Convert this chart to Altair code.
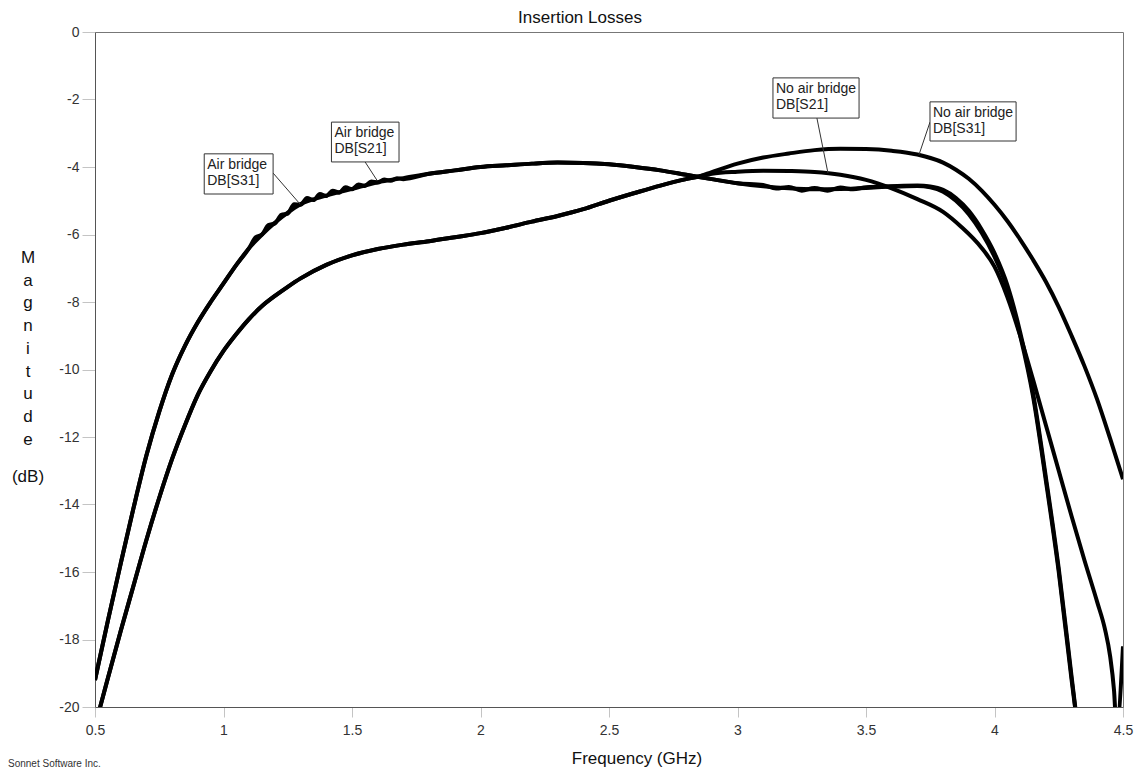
import altair as alt
import pandas as pd

# ---- Curves (frequency in GHz, magnitude in dB) ----
ab_s21_f = [0.5, 0.55, 0.6, 0.65, 0.7, 0.75, 0.8, 0.85, 0.9, 0.95, 1.0, 1.05, 1.1, 1.15, 1.2, 1.25, 1.3,
            1.4, 1.5, 1.6, 1.7, 1.8, 1.9, 2.0, 2.1, 2.2, 2.3, 2.4, 2.5, 2.6, 2.7, 2.8, 2.9, 3.0, 3.1, 3.2,
            3.3, 3.4, 3.5, 3.6, 3.7, 3.75, 3.8, 3.85, 3.9, 3.95, 4.0, 4.05, 4.1, 4.15, 4.2, 4.25, 4.3, 4.33]
ab_s21_db = [-19.2, -17.45, -15.75, -14.1, -12.55, -11.25, -10.15, -9.3, -8.6, -8.0, -7.45, -6.9, -6.4,
             -6.0, -5.65, -5.35, -5.1, -4.85, -4.65, -4.45, -4.33, -4.2, -4.1, -4.0, -3.95, -3.9, -3.87,
             -3.88, -3.92, -4.0, -4.1, -4.23, -4.36, -4.48, -4.57, -4.63, -4.66, -4.65, -4.62, -4.58,
             -4.56, -4.6, -4.73, -5.0, -5.4, -5.95, -6.66, -7.6, -9.0, -10.8, -13.3, -16.0, -19.2, -21.0]

ab_s31_f = [0.5, 0.55, 0.6, 0.65, 0.7, 0.75, 0.8, 0.85, 0.9, 0.95, 1.0, 1.05, 1.1, 1.125, 1.15, 1.175,
            1.2, 1.225, 1.25, 1.275, 1.3, 1.325, 1.35, 1.375, 1.4, 1.425, 1.45, 1.475, 1.5, 1.525, 1.55,
            1.575, 1.6, 1.625, 1.65, 1.675, 1.7, 1.8, 1.9, 2.0, 2.1, 2.2, 2.3, 2.4, 2.5, 2.6, 2.7, 2.8,
            2.9, 3.0, 3.1, 3.15, 3.2, 3.25, 3.3, 3.35, 3.4, 3.45, 3.5, 3.6, 3.7, 3.75, 3.8, 3.85, 3.9,
            3.95, 4.0, 4.05, 4.1, 4.15, 4.2, 4.25, 4.3, 4.33]
ab_s31_db = [-19.2, -17.45, -15.75, -14.1, -12.55, -11.25, -10.15, -9.3, -8.6, -8.0, -7.45, -6.9, -6.4,
             -6.08, -6.0, -5.72, -5.67, -5.42, -5.38, -5.1, -5.12, -4.92, -4.98, -4.8, -4.86, -4.7, -4.76,
             -4.6, -4.66, -4.52, -4.56, -4.43, -4.46, -4.37, -4.41, -4.33, -4.36, -4.2, -4.1, -4.0, -3.95,
             -3.9, -3.87, -3.88, -3.92, -4.0, -4.1, -4.23, -4.36, -4.48, -4.53, -4.64, -4.59, -4.7, -4.62,
             -4.7, -4.61, -4.66, -4.6, -4.57, -4.55, -4.58, -4.68, -4.92, -5.3, -5.85, -6.55, -7.5, -8.9,
             -10.7, -13.2, -15.9, -19.1, -21.0]

nab_s21_f = [0.5, 0.52, 0.55, 0.6, 0.65, 0.7, 0.75, 0.8, 0.85, 0.9, 0.95, 1.0, 1.05, 1.1, 1.15, 1.2, 1.25,
             1.3, 1.4, 1.5, 1.6, 1.7, 1.8, 1.9, 2.0, 2.1, 2.2, 2.3, 2.4, 2.5, 2.6, 2.7, 2.8, 2.85, 2.9,
             3.0, 3.1, 3.2, 3.3, 3.4, 3.5, 3.6, 3.7, 3.8, 3.87, 3.95, 4.0, 4.05, 4.1, 4.15, 4.2, 4.25,
             4.3, 4.35, 4.4, 4.43, 4.45, 4.465, 4.475, 4.5]
nab_s21_db = [-20.55, -20.0, -19.15, -17.75, -16.4, -15.05, -13.8, -12.65, -11.65, -10.75, -10.05, -9.45,
              -8.95, -8.5, -8.12, -7.82, -7.55, -7.3, -6.9, -6.62, -6.43, -6.3, -6.2, -6.08, -5.96, -5.8,
              -5.62, -5.45, -5.25, -5.0, -4.77, -4.55, -4.36, -4.28, -4.2, -4.14, -4.11, -4.12, -4.15,
              -4.23, -4.38, -4.63, -4.95, -5.33, -5.77, -6.4, -6.95, -7.85, -9.0, -10.3, -11.65, -13.0,
              -14.35, -15.65, -16.9, -17.7, -18.5, -19.5, -20.6, -18.2]

nab_s31_f = [0.5, 0.52, 0.55, 0.6, 0.65, 0.7, 0.75, 0.8, 0.85, 0.9, 0.95, 1.0, 1.05, 1.1, 1.15, 1.2, 1.25,
             1.3, 1.4, 1.5, 1.6, 1.7, 1.8, 1.9, 2.0, 2.1, 2.2, 2.3, 2.4, 2.5, 2.6, 2.7, 2.8, 2.85, 2.9,
             3.0, 3.1, 3.2, 3.3, 3.4, 3.5, 3.6, 3.7, 3.8, 3.85, 3.9, 3.95, 4.0, 4.05, 4.1, 4.15, 4.2,
             4.25, 4.3, 4.35, 4.4, 4.45, 4.5]
nab_s31_db = [-20.55, -20.0, -19.15, -17.75, -16.4, -15.05, -13.8, -12.65, -11.65, -10.75, -10.05, -9.45,
              -8.95, -8.5, -8.12, -7.82, -7.55, -7.3, -6.9, -6.62, -6.43, -6.3, -6.2, -6.08, -5.96, -5.8,
              -5.62, -5.45, -5.25, -5.0, -4.77, -4.55, -4.36, -4.28, -4.15, -3.9, -3.72, -3.6, -3.5,
              -3.46, -3.47, -3.52, -3.63, -3.87, -4.08, -4.35, -4.7, -5.12, -5.6, -6.15, -6.75, -7.4,
              -8.15, -9.0, -9.9, -10.9, -12.05, -13.25]

series_names = ["Air bridge DB[S21]", "Air bridge DB[S31]", "No air bridge DB[S21]", "No air bridge DB[S31]"]

# ---- Callout boxes (data units) ----
box_text = ["Air bridge\nDB[S31]", "Air bridge\nDB[S21]", "No air bridge\nDB[S21]", "No air bridge\nDB[S31]"]
box_f0 = [0.925, 1.42, 3.138, 3.749]
box_f1 = [1.193, 1.683, 3.473, 4.084]
box_db_top = [-3.61, -2.67, -1.36, -2.07]
box_db_bot = [-4.80, -3.85, -2.55, -3.23]
lead_f0 = [1.193, 1.551, 3.309, 3.749]
lead_db0 = [-4.18, -3.85, -2.55, -2.67]
lead_f1 = [1.298, 1.597, 3.352, 3.706]
lead_db1 = [-5.10, -4.39, -4.18, -3.64]

x_ticks = [0.5, 1, 1.5, 2, 2.5, 3, 3.5, 4, 4.5]
y_ticks = [0, -2, -4, -6, -8, -10, -12, -14, -16, -18, -20]

title_txt = ["Insertion Losses"]
xlab_txt = ["Frequency (GHz)"]
ylab_letters = ["M", "a", "g", "n", "i", "t", "u", "d", "e"]
yunit_txt = ["(dB)"]
credit_txt = ["Sonnet Software Inc."]

FONT = "Liberation Sans"

rows = []
for name, fs, ds in zip(series_names,
                        [ab_s21_f, ab_s31_f, nab_s21_f, nab_s31_f],
                        [ab_s21_db, ab_s31_db, nab_s21_db, nab_s31_db]):
    for i, (f, d) in enumerate(zip(fs, ds)):
        rows.append({"series": name, "idx": i, "freq": f, "db": d})
curves = pd.DataFrame(rows)

ann = pd.DataFrame({"text": box_text, "f0": box_f0, "f1": box_f1, "d0": box_db_top, "d1": box_db_bot,
                    "lf0": lead_f0, "ld0": lead_db0, "lf1": lead_f1, "ld1": lead_db1})

xs = alt.Scale(domain=[0.5, 4.5], nice=False, zero=False)
ys = alt.Scale(domain=[-20, 0], nice=False, zero=False)

x_axis = alt.Axis(values=x_ticks, labelExpr="toString(datum.value)", title=None, grid=False,
                  tickSize=10, tickColor="#c4c4c4", domainColor="#555", labelPadding=6,
                  labelFont=FONT, labelFontSize=14, labelColor="#333", labelFlush=False)
y_axis = alt.Axis(values=y_ticks, labelExpr="toString(datum.value)", title=None, grid=False,
                  tickSize=13, tickColor="#c4c4c4", domainColor="#555", labelPadding=3,
                  labelFont=FONT, labelFontSize=14, labelColor="#333")

lines = alt.Chart(curves).mark_line(color="black", strokeWidth=4, clip=True, interpolate="monotone",
                                    strokeJoin="round", strokeCap="butt").encode(
    x=alt.X("freq:Q", scale=xs, axis=x_axis),
    y=alt.Y("db:Q", scale=ys, axis=y_axis),
    detail="series:N",
    order="idx:Q",
)

leaders = alt.Chart(ann).mark_rule(color="#333", strokeWidth=1).encode(
    x=alt.X("lf0:Q", scale=xs), x2="lf1:Q",
    y=alt.Y("ld0:Q", scale=ys), y2="ld1:Q",
)

boxes = alt.Chart(ann).mark_rect(fill="white", stroke="#333", strokeWidth=1).encode(
    x=alt.X("f0:Q", scale=xs), x2="f1:Q",
    y=alt.Y("d0:Q", scale=ys), y2="d1:Q",
)

box_labels = alt.Chart(ann).mark_text(align="left", baseline="top", dx=3, dy=4, lineBreak="\n",
                                      lineHeight=16, font=FONT, fontSize=14, color="#222").encode(
    x=alt.X("f0:Q", scale=xs), y=alt.Y("d0:Q", scale=ys), text="text:N",
)

title = alt.Chart(pd.DataFrame({"t": title_txt})).mark_text(
    font=FONT, fontSize=17, color="#111", baseline="alphabetic", align="center").encode(
    x=alt.value(580 - 95), y=alt.value(23 - 32), text="t:N")

xlab = alt.Chart(pd.DataFrame({"t": xlab_txt})).mark_text(
    font=FONT, fontSize=17, color="#111", baseline="middle", align="center").encode(
    x=alt.value(637 - 95), y=alt.value(759 - 32), text="t:N")

ylab = alt.Chart(pd.DataFrame({"t": ["\n".join(ylab_letters)]})).mark_text(
    font=FONT, fontSize=17, color="#111", baseline="top", align="center", lineBreak="\n",
    lineHeight=22.7).encode(
    x=alt.value(28 - 95), y=alt.value(250 - 32), text="t:N")

yunit = alt.Chart(pd.DataFrame({"t": yunit_txt})).mark_text(
    font=FONT, fontSize=17, color="#111", baseline="middle", align="center").encode(
    x=alt.value(28 - 95), y=alt.value(477 - 32), text="t:N")

credit = alt.Chart(pd.DataFrame({"t": credit_txt})).mark_text(
    font=FONT, fontSize=10, color="#333", baseline="middle", align="left").encode(
    x=alt.value(8 - 95), y=alt.value(764 - 32), text="t:N")

chart = alt.layer(lines, leaders, boxes, box_labels, title, xlab, ylab, yunit, credit).properties(
    width=1028, height=675,
    autosize=alt.AutoSizeParams(type="none"),
    padding={"left": 87, "top": 24, "right": 12, "bottom": 66},
    background="white",
).configure_view(stroke="#777", strokeWidth=1)

chart.save("out.html", embed_options={"renderer": "svg", "actions": False})
